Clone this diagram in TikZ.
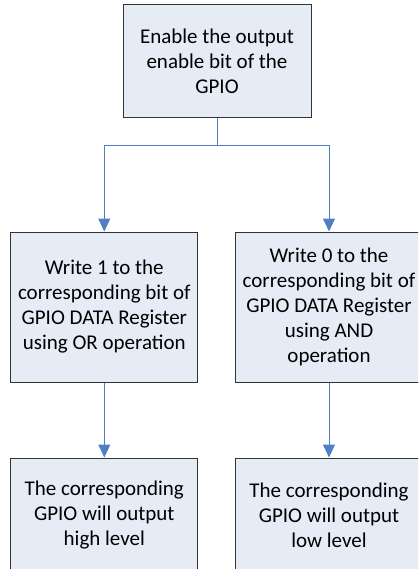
\documentclass[tikz,border=0pt]{standalone}
\usepackage{fontspec}
\setmainfont{Carlito}
\usepackage{xcolor}
\usepackage{tikz}
\usetikzlibrary{arrows.meta,positioning}

\definecolor{boxfill}{HTML}{E6ECF6}
\definecolor{boxline}{HTML}{333333}
\definecolor{flowblue}{HTML}{4F7FC4}

\begin{document}
\begin{tikzpicture}[
      x=1pt, y=-1pt,
      stepbox/.style={rectangle, draw=boxline, line width=1pt, fill=boxfill,
      minimum width=187pt, align=center,
      font=\fontsize{21}{25}\selectfont},
      conn/.style={draw=flowblue, line width=1pt,
      -{Triangle[width=12pt,length=13pt]}}]
    \useasboundingbox (0,0) rectangle (418,569);
    \clip (0,0) rectangle (418,569);
    \node[stepbox, minimum width=188pt, minimum height=113pt] (en) at (217,61.5)
      {Enable the output\\enable bit of the\\GPIO};
    \node[stepbox, minimum height=150pt] (w1) at (104.3,307)
      {Write 1 to the\\corresponding bit of\\GPIO DATA Register\\using OR operation};
    \node[stepbox, minimum height=150pt] (w0) at (329,307)
      {Write 0 to the\\corresponding bit of\\GPIO DATA Register\\using AND\\operation};
    \node[stepbox, minimum height=114pt] (hi) at (104.3,515)
      {The corresponding\\GPIO will output\\high level};
    \node[stepbox, minimum height=114pt] (lo) at (329,515)
      {The corresponding\\GPIO will output\\low level};
    \coordinate (split) at (217,146);
    \draw[draw=flowblue, line width=1pt] (en.south) -- (split);
    \draw[conn] (split) -| (w1.north);
    \draw[conn] (split) -| (w0.north);
    \draw[conn] (w1) -- (hi);
    \draw[conn] (w0) -- (lo);
  \end{tikzpicture}
\end{document}
